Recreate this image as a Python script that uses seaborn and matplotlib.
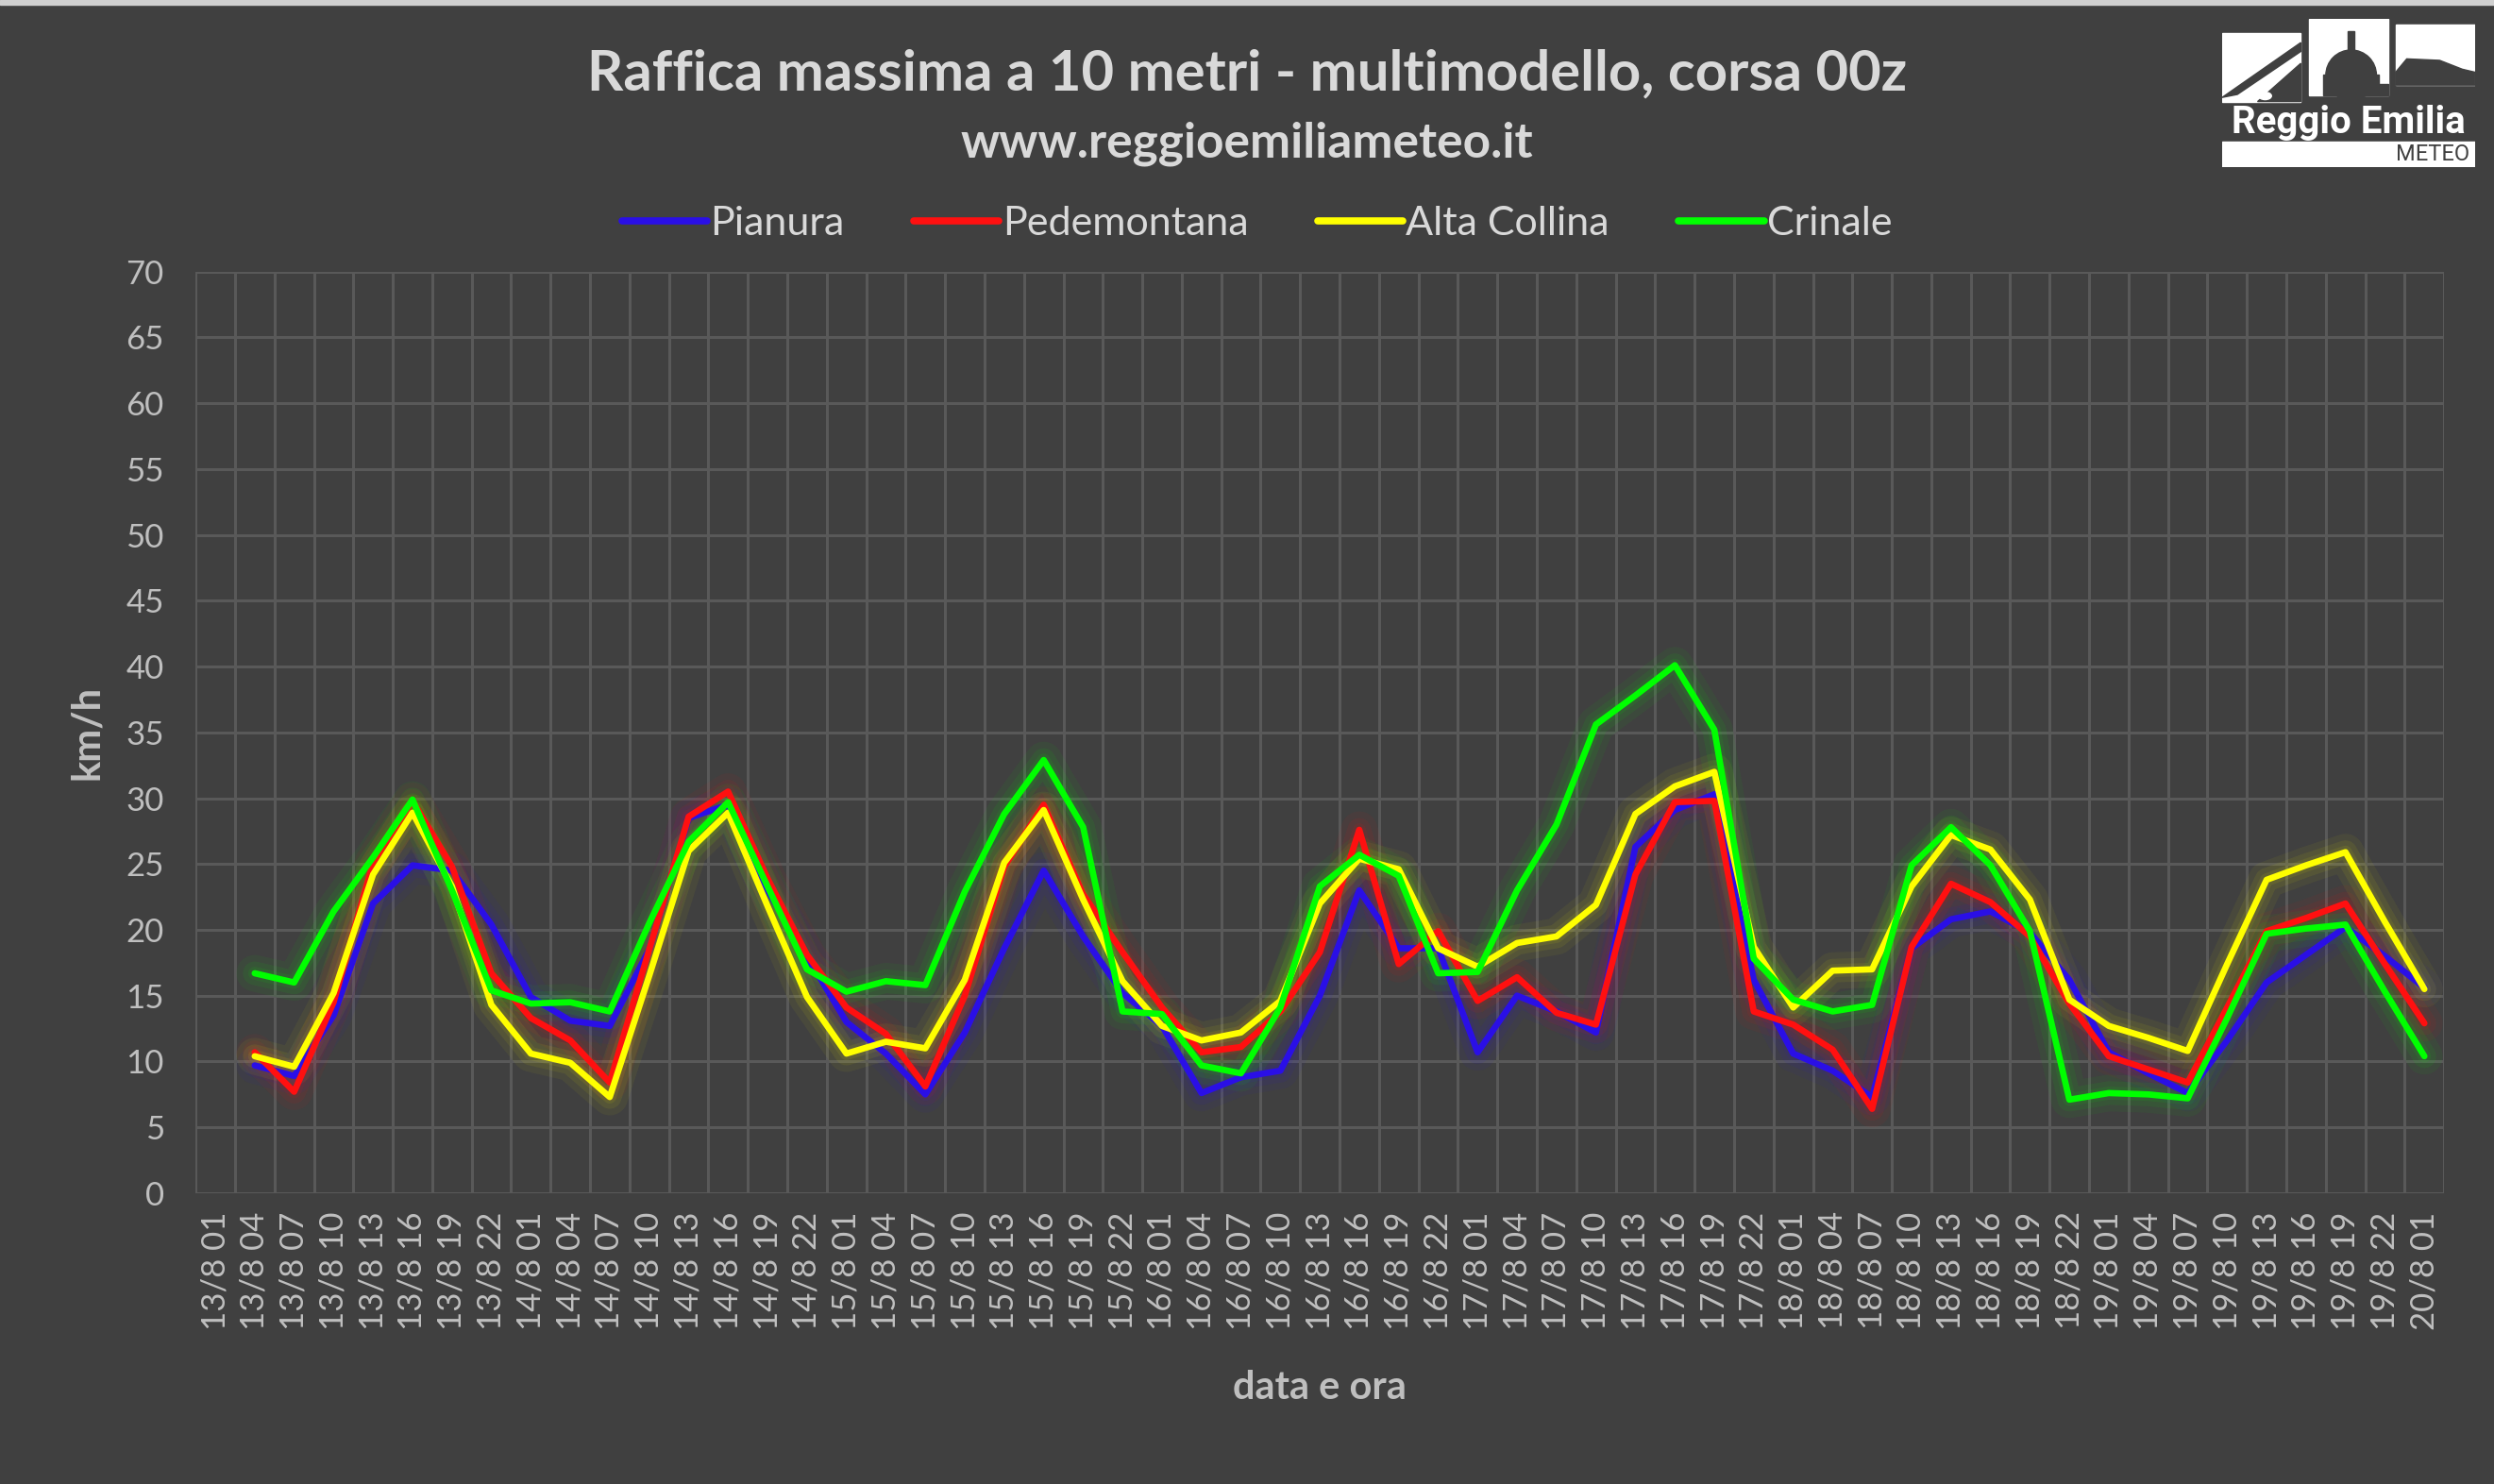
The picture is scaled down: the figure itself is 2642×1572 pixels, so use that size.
import numpy as np
import pandas as pd
import matplotlib
matplotlib.use("Agg")
import matplotlib.pyplot as plt
import matplotlib.patches as mpatches
from matplotlib.lines import Line2D
import seaborn as sns

# etichette asse x: ogni 3 ore dal 13/8 01 al 20/8 01
giorni = [13, 14, 15, 16, 17, 18, 19]
ore = ["01", "04", "07", "10", "13", "16", "19", "22"]
etichette = [f"{g}/8 {h}" for g in giorni for h in ore] + ["20/8 01"]

# valori (km/h), dal 13/8 04 al 20/8 01
pianura = [9.7, 8.9, 13.5, 22.0, 24.9, 24.5, 20.4, 14.9, 13.1, 12.7,
           18.5, 28.5, 29.5, 23.0, 18.0, 13.0, 10.6, 7.5, 12.2, 18.6,
           24.5, 19.5, 15.2, 12.7, 7.6, 8.8, 9.3, 15.0, 23.0, 18.6,
           18.6, 10.7, 15.0, 13.8, 12.2, 26.3, 29.1, 30.3, 16.2, 10.6,
           9.3, 7.3, 18.6, 20.8, 21.4, 19.8, 16.2, 10.7, 9.1, 7.6,
           11.6, 16.0, 18.1, 20.2, 18.0, 15.6]
pedemontana = [10.7, 7.7, 14.5, 25.1, 29.8, 24.8, 16.7, 13.3, 11.6, 8.4,
               18.5, 28.6, 30.5, 23.9, 18.1, 14.1, 12.1, 8.1, 15.0, 24.8,
               29.5, 22.7, 18.3, 14.1, 10.7, 11.1, 13.8, 18.3, 27.6, 17.4,
               19.9, 14.6, 16.4, 13.7, 12.8, 24.2, 29.7, 29.8, 13.8, 12.8,
               10.9, 6.4, 18.7, 23.5, 22.1, 19.5, 14.4, 10.4, 9.4, 8.4,
               14.1, 19.9, 20.9, 22.0, 17.4, 12.9]
alta_collina = [10.4, 9.6, 15.2, 24.2, 28.9, 23.3, 14.3, 10.6, 9.9, 7.3,
                16.5, 26.0, 28.9, 21.8, 14.9, 10.6, 11.5, 11.0, 16.2, 25.1,
                29.1, 22.3, 16.1, 12.7, 11.6, 12.2, 14.6, 22.0, 25.4, 24.6,
                18.6, 17.2, 19.0, 19.5, 21.9, 28.8, 30.9, 32.0, 18.7, 14.1,
                16.9, 17.0, 23.3, 27.2, 26.1, 22.3, 14.7, 12.7, 11.8, 10.8,
                17.4, 23.8, 24.9, 25.9, 20.6, 15.5]
crinale = [16.7, 16.0, 21.4, 25.5, 29.9, 23.0, 15.4, 14.4, 14.5, 13.8,
           20.5, 26.7, 29.7, 23.3, 17.0, 15.3, 16.1, 15.8, 22.9, 28.8,
           32.9, 27.8, 13.8, 13.6, 9.7, 9.1, 14.1, 23.3, 25.7, 24.1,
           16.7, 16.8, 23.0, 28.0, 35.6, 37.8, 40.1, 35.2, 17.8, 14.7,
           13.8, 14.3, 24.9, 27.8, 24.9, 19.9, 7.1, 7.6, 7.5, 7.2,
           13.3, 19.7, 20.1, 20.4, 15.3, 10.4]

serie = ["Pianura", "Pedemontana", "Alta Collina", "Crinale"]
colori = {"Pianura": "#2a0fe6", "Pedemontana": "#ff1010",
          "Alta Collina": "#ffff00", "Crinale": "#00ff00"}

pos = list(range(1, len(etichette)))
df = pd.concat([
    pd.DataFrame({"pos": pos, "val": v, "serie": s})
    for s, v in zip(serie, [pianura, pedemontana, alta_collina, crinale])
])

bg = "#404040"
grid_c = "#595959"
txt_c = "#d9d9d9"
tick_c = "#bfbfbf"

sns.set_theme(style="dark")
plt.rcParams["font.family"] = ["Lato", "DejaVu Sans"]

fig = plt.figure(figsize=(26.42, 15.72), dpi=100, facecolor=bg)
ax = fig.add_axes([0.0784, 0.196, 0.9016, 0.621], facecolor=bg)

# effetto alone
for s in serie:
    d = df[df.serie == s]
    for lw, a in [(28, 0.05), (18, 0.07), (10, 0.08)]:
        ax.plot(d.pos, d.val, color=colori[s], lw=lw, alpha=a,
                solid_joinstyle="round", solid_capstyle="round", zorder=2)

sns.lineplot(data=df, x="pos", y="val", hue="serie", palette=colori,
             hue_order=serie, linewidth=4.8, legend=False, ax=ax, zorder=3)

ax.set_xlim(-0.5, len(etichette) - 0.5)
ax.set_ylim(0, 70)
ax.set_yticks(range(0, 71, 5))
ax.set_xticks(range(len(etichette)))
ax.set_xticklabels(etichette, rotation=90)
ax.set_xticks(np.arange(-0.5, len(etichette), 1.0), minor=True)
ax.grid(False)
ax.grid(axis="y", which="major", color=grid_c, lw=2.2, zorder=1)
ax.grid(axis="x", which="minor", color=grid_c, lw=2.2, zorder=1)
ax.tick_params(axis="both", which="both", length=0, colors=tick_c, labelsize=25)
ax.tick_params(axis="y", pad=24)
ax.tick_params(axis="x", pad=14)
for sp in ax.spines.values():
    sp.set_visible(False)

ax.set_xlabel("data e ora", color=tick_c, fontsize=30, fontweight="bold", labelpad=30)
ax.set_ylabel("km/h", color=tick_c, fontsize=30, fontweight="bold", labelpad=16)

handles = [Line2D([0], [0], color=colori[s], lw=5.5) for s in serie]
fig.legend(handles, serie, loc="center", bbox_to_anchor=(0.504, 0.849), ncol=4,
           frameon=False, fontsize=31, labelcolor=txt_c, handlelength=2.1,
           handletextpad=0.08, columnspacing=1.7)

fig.text(0.5, 0.950, "Raffica massima a 10 metri - multimodello, corsa 00z",
         ha="center", va="center", color=txt_c, fontsize=43, fontweight="bold")
fig.text(0.5, 0.903, "www.reggioemiliameteo.it", ha="center", va="center",
         color=txt_c, fontsize=37, fontweight="bold")

# bordo superiore chiaro
fig.patches.append(mpatches.Rectangle((0, 0.997), 1, 0.003, transform=fig.transFigure,
                                      color="#d0d0d0", zorder=0))

# logo
lg = fig.add_axes([0.891, 0.8874, 0.1014, 0.0999])
lg.set_xlim(0, 1)
lg.set_ylim(0, 1)
lg.axis("off")
w = "white"
lg.add_patch(mpatches.Rectangle((0.0, 0.442), 0.311, 0.462, color=w))
lg.add_patch(mpatches.Rectangle((0.3425, 0.483), 0.3135, 0.517, color=w))
lg.add_patch(mpatches.Rectangle((0.686, 0.553), 0.314, 0.41, color=w))
# sagome
lg.add_patch(mpatches.Polygon([(0.0, 0.47), (0.311, 0.84), (0.311, 0.78), (0.06, 0.49)],
                              color=bg))
lg.add_patch(mpatches.Polygon([(0.14, 0.442), (0.311, 0.70), (0.311, 0.442)], color=bg))
lg.add_patch(mpatches.Circle((0.17, 0.48), 0.025, color=w))
lg.add_patch(mpatches.Ellipse((0.51, 0.62), 0.20, 0.34, color=bg))
lg.add_patch(mpatches.Rectangle((0.40, 0.483), 0.22, 0.14, color=bg))
lg.add_patch(mpatches.Rectangle((0.497, 0.76), 0.026, 0.16, color=bg))
lg.add_patch(mpatches.Rectangle((0.62, 0.483), 0.0365, 0.08, color=bg))
lg.add_patch(mpatches.Polygon([(0.686, 0.553), (0.686, 0.64), (0.73, 0.73), (0.86, 0.72),
                               (0.95, 0.66), (1.0, 0.64), (1.0, 0.553)], color=bg))
lg.text(0.5, 0.30, "Reggio Emilia", ha="center", va="center", color=w,
        fontsize=29, fontweight="bold", family=["Roboto", "DejaVu Sans"])
lg.add_patch(mpatches.Rectangle((0.0, 0.0), 1.0, 0.17, color=w))
lg.text(0.98, 0.085, "METEO", ha="right", va="center", color=bg, fontsize=17,
        family=["Roboto", "DejaVu Sans"])

fig.savefig("out.png", dpi=100, facecolor=bg)
